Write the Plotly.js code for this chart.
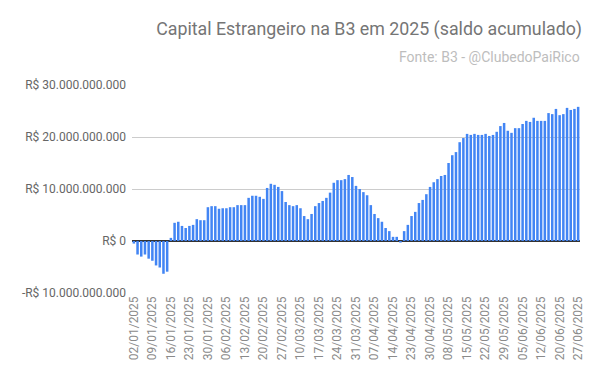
<!DOCTYPE html>
<html>
<head>
<meta charset="utf-8">
<script src="https://cdn.plot.ly/plotly-3.0.1.min.js"></script>
<style>
html,body{margin:0;padding:0;background:#fff;}
#chart{width:600px;height:385px;}
</style>
</head>
<body>
<div id="chart"></div>
<script>
// Trading days (B3) from 02/01/2025 to 27/06/2025
const dates = [
"02/01/2025","03/01/2025","06/01/2025","07/01/2025","08/01/2025","09/01/2025","10/01/2025","13/01/2025","14/01/2025","15/01/2025",
"16/01/2025","17/01/2025","20/01/2025","21/01/2025","22/01/2025","23/01/2025","24/01/2025","27/01/2025","28/01/2025","29/01/2025",
"30/01/2025","31/01/2025","03/02/2025","04/02/2025","05/02/2025","06/02/2025","07/02/2025","10/02/2025","11/02/2025","12/02/2025",
"13/02/2025","14/02/2025","17/02/2025","18/02/2025","19/02/2025","20/02/2025","21/02/2025","24/02/2025","25/02/2025","26/02/2025",
"27/02/2025","28/02/2025","05/03/2025","06/03/2025","07/03/2025","10/03/2025","11/03/2025","12/03/2025","13/03/2025","14/03/2025",
"17/03/2025","18/03/2025","19/03/2025","20/03/2025","21/03/2025","24/03/2025","25/03/2025","26/03/2025","27/03/2025","28/03/2025",
"31/03/2025","01/04/2025","02/04/2025","03/04/2025","04/04/2025","07/04/2025","08/04/2025","09/04/2025","10/04/2025","11/04/2025",
"14/04/2025","15/04/2025","16/04/2025","17/04/2025","22/04/2025","23/04/2025","24/04/2025","25/04/2025","28/04/2025","29/04/2025",
"30/04/2025","02/05/2025","05/05/2025","06/05/2025","07/05/2025","08/05/2025","09/05/2025","12/05/2025","13/05/2025","14/05/2025",
"15/05/2025","16/05/2025","19/05/2025","20/05/2025","21/05/2025","22/05/2025","23/05/2025","26/05/2025","27/05/2025","28/05/2025",
"29/05/2025","30/05/2025","02/06/2025","03/06/2025","04/06/2025","05/06/2025","06/06/2025","09/06/2025","10/06/2025","11/06/2025",
"12/06/2025","13/06/2025","16/06/2025","17/06/2025","18/06/2025","20/06/2025","23/06/2025","24/06/2025","25/06/2025","26/06/2025",
"27/06/2025"
];

// Accumulated balance, in billions of R$
const saldoBi = [
-0.5,-2.6,-3.0,-2.6,-3.4,-3.8,-4.7,-5.1,-6.3,-5.9,
0.6,3.5,3.7,2.9,2.5,2.9,3.1,4.2,4.0,4.0,
6.5,6.7,6.7,6.2,6.3,6.3,6.5,6.5,6.9,6.9,
6.9,8.3,8.7,8.7,8.5,8.1,10.2,11.0,10.8,10.4,
9.6,7.5,6.9,6.7,6.9,6.3,4.8,4.2,5.2,6.7,
7.3,7.7,8.3,9.3,11.2,11.7,11.7,11.9,12.7,12.3,
10.6,10.0,9.4,8.8,6.9,5.2,4.4,3.7,2.5,1.9,
0.8,0.8,-0.3,1.9,3.1,4.8,5.6,7.3,7.9,9.0,
10.4,11.3,11.9,12.5,12.7,15.0,16.5,17.1,19.0,19.8,
20.6,20.4,20.6,20.4,20.4,20.6,20.2,20.4,21.0,22.1,
22.7,21.2,20.8,21.7,21.7,22.5,23.1,22.9,23.7,23.1,
23.1,23.1,24.6,24.4,25.4,24.2,24.4,25.6,25.2,25.4,
25.8
];

const yTickVals = [-10e9, 0, 10e9, 20e9, 30e9];
const yTickText = ["-R$ 10.000.000.000", "R$ 0", "R$ 10.000.000.000", "R$ 20.000.000.000", "R$ 30.000.000.000"];
const xTickVals = dates.filter((d, i) => i % 5 === 0);

const titleText = "Capital Estrangeiro na B3 em 2025 (saldo acumulado)";
const subtitleText = "Fonte: B3 - @ClubedoPaiRico";

const values = saldoBi.map(v => v * 1e9);

const trace = {
  type: 'bar',
  x: dates,
  y: values,
  marker: {color: '#4285F4'},
  hoverinfo: 'skip'
};

const layout = {
  width: 600, height: 385,
  margin: {l: 132, r: 20, t: 85, b: 92},
  paper_bgcolor: '#fff', plot_bgcolor: '#fff',
  font: {family: 'Roboto, sans-serif', size: 12, color: '#666'},
  bargap: 0.32,
  showlegend: false,
  xaxis: {
    type: 'category',
    tickmode: 'array',
    tickvals: xTickVals,
    ticktext: xTickVals,
    tickangle: -90,
    tickfont: {family: 'Roboto, sans-serif', size: 12, color: '#8a8a8a'},
    showgrid: false,
    ticks: '',
    showline: false,
    zeroline: false,
    range: [-0.5, dates.length - 0.5]
  },
  yaxis: {
    range: [-10e9, 30e9],
    tickmode: 'array',
    tickvals: yTickVals,
    ticktext: yTickText,
    tickfont: {family: 'Roboto, sans-serif', size: 12, color: '#666'},
    showgrid: true,
    gridcolor: '#cccccc',
    gridwidth: 1,
    zeroline: true,
    zerolinecolor: '#333333',
    zerolinewidth: 1.5,
    ticks: '',
    ticklabelstandoff: 5,
    showline: false
  },
  title: {
    text: titleText,
    font: {family: 'Roboto, sans-serif', size: 17.8, color: '#757575'},
    xref: 'container', yref: 'container',
    x: 582/600, xanchor: 'right',
    y: 1 - 29/385, yanchor: 'middle'
  },
  annotations: [{
    text: subtitleText,
    xref: 'paper', yref: 'paper',
    x: 1.004, xanchor: 'right',
    y: 1 + (85 - 57) / 208, yanchor: 'middle',
    showarrow: false,
    font: {family: 'Roboto, sans-serif', size: 14, color: '#bdbdbd'}
  }]
};

Plotly.newPlot('chart', [trace], layout, {displayModeBar: false, staticPlot: true});
</script>
</body>
</html>
